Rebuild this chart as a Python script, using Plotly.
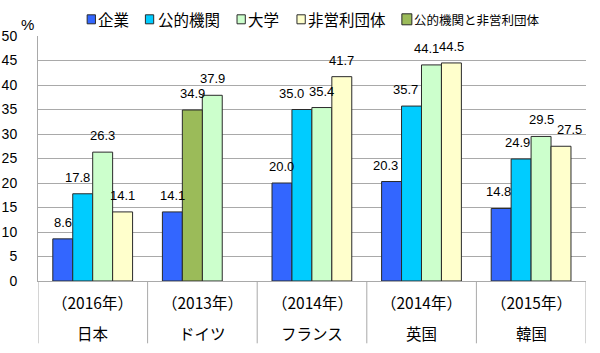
import plotly.graph_objects as go

# ---------------- data ----------------
countries = ["日本", "ドイツ", "フランス", "英国", "韓国"]
years = ["（2016年）", "（2013年）", "（2014年）", "（2014年）", "（2015年）"]
series_names = ["企業", "公的機関", "大学", "非営利団体", "公的機関と非営利団体"]
kigyo = [8.6, 14.1, 20.0, 20.3, 14.8]
koteki = [17.8, None, 35.0, 35.7, 24.9]
daigaku = [26.3, 37.9, 35.4, 44.1, 29.5]
hieiri = [14.1, None, 41.7, 44.5, 27.5]
koteki_hieiri = [None, 34.9, None, None, None]
y_ticks = list(range(0, 51, 5))

series_values = [kigyo, koteki, daigaku, hieiri, koteki_hieiri]

# ---------------- style ----------------
colors = ["#3366FF", "#00CCFF", "#CCFFCC", "#FFFFCC", "#9BBB59"]
slots = [0, 1, 2, 3, 1]            # bar slot inside each country group
BAR_W = 0.182
FIRST_OFF = -0.365
GRID = "#A9A9A9"
OUTLINE = "#2A2A2A"
NUM_FONT = "Liberation Sans, Arial, sans-serif"
JP_FONT = "Noto Sans CJK JP, sans-serif"

# small horizontal nudges (px) of value labels, as in the original
label_dx = {(1, 0): -5, (1, 2): -10, (0, 3): -6, (1, 3): -6, (2, 3): -5,
            (0, 4): -3, (1, 4): -4, (3, 4): 8}

W, H = 600, 353
ML, MR, MT, MB = 37.5, 14, 35.7, 72.3
PW, PH = W - ML - MR, H - MT - MB


def px_x(px):
    return (px - ML) / PW


def px_y(py):
    return (H - MB - py) / PH


fig = go.Figure()
annotations = []
shapes = []

for s, (name, vals) in enumerate(zip(series_names, series_values)):
    off = FIRST_OFF + slots[s] * BAR_W
    fig.add_trace(go.Bar(
        name=name, x=countries, y=vals,
        offset=off, width=BAR_W,
        marker=dict(color=colors[s], line=dict(color=OUTLINE, width=1)),
        showlegend=False, hoverinfo="x+y+name",
    ))
    for i, v in enumerate(vals):
        if v is None:
            continue
        annotations.append(dict(
            x=i + off + BAR_W / 2, y=v, xref="x", yref="y",
            text=f"{v:.1f}", showarrow=False,
            xanchor="center", yanchor="bottom",
            xshift=label_dx.get((s, i), 0), yshift=7,
            font=dict(family=NUM_FONT, size=13, color="#000"),
        ))

# category labels (two rows) below the axis
for i, (c, yr) in enumerate(zip(countries, years)):
    annotations.append(dict(x=c, y=0, xref="x", yref="paper", text=yr,
                            showarrow=False, yanchor="middle", yshift=-21,
                            font=dict(family=JP_FONT, size=15.5, color="#000")))
    annotations.append(dict(x=c, y=0, xref="x", yref="paper", text=c,
                            showarrow=False, yanchor="middle", yshift=-52.3,
                            font=dict(family=JP_FONT, size=15.5, color="#000")))

# divider lines of the category table
for i in range(len(countries) + 1):
    shapes.append(dict(type="line", xref="x", yref="paper",
                       x0=i - 0.5, x1=i - 0.5, y0=0, y1=px_y(343),
                       line=dict(color=GRID, width=1)))

# custom legend
legend_items = [  # (marker left, marker right, text left, font size, marker h)
    (86.7, 95.0, 96.7, 15.5, 9),
    (145.0, 153.3, 156.7, 15.5, 9),
    (236.7, 245.0, 246.7, 15.5, 9),
    (296.7, 305.0, 307.0, 15.5, 9),
    (401.7, 411.7, 413.0, 12.5, 11),
]
LEG_Y = 19
for s, (m0, m1, t0, fs, mh) in enumerate(legend_items):
    shapes.append(dict(type="rect", xref="paper", yref="paper",
                       x0=px_x(m0), x1=px_x(m1),
                       y0=px_y(LEG_Y + mh / 2), y1=px_y(LEG_Y - mh / 2),
                       fillcolor=colors[s], line=dict(color=OUTLINE, width=1)))
    annotations.append(dict(x=px_x(t0 - 1.5), y=px_y(LEG_Y), xref="paper", yref="paper",
                            text=series_names[s], showarrow=False,
                            xanchor="left", yanchor="middle",
                            font=dict(family=JP_FONT, size=fs, color="#000")))

# % unit label
annotations.append(dict(x=px_x(27), y=px_y(24), xref="paper", yref="paper",
                        text="%", showarrow=False, xanchor="center", yanchor="middle",
                        font=dict(family=NUM_FONT, size=15, color="#000")))

fig.update_layout(
    width=W, height=H,
    margin=dict(l=ML, r=MR, t=MT, b=MB, pad=0),
    paper_bgcolor="white", plot_bgcolor="white",
    barmode="overlay", showlegend=False,
    annotations=annotations, shapes=shapes,
    xaxis=dict(type="category", range=[-0.5, len(countries) - 0.5],
               showticklabels=False, showgrid=False, zeroline=False,
               showline=True, linecolor=GRID, linewidth=1, ticks="",
               automargin=False),
    yaxis=dict(range=[0, 50], tickvals=y_ticks, ticktext=[str(t) for t in y_ticks],
               showgrid=True, gridcolor=GRID, gridwidth=1, zeroline=False,
               showline=True, linecolor=GRID, linewidth=1,
               ticks="outside", ticklen=17, tickcolor="rgba(0,0,0,0)",
               tickfont=dict(family=NUM_FONT, size=14, color="#000"),
               automargin=False),
)

fig.write_html("out.html")
